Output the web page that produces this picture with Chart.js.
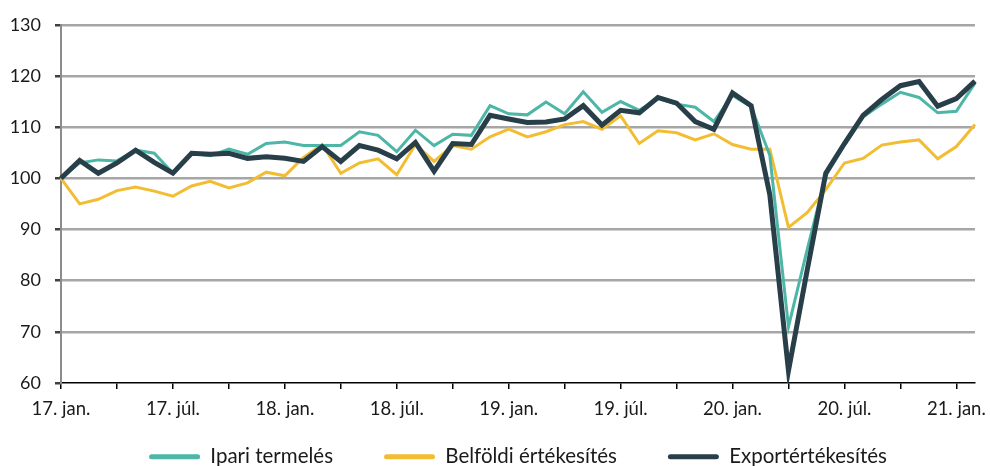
<!DOCTYPE html>
<html><head><meta charset="utf-8">
<script src="https://cdn.jsdelivr.net/npm/chart.js@4.4.1/dist/chart.umd.min.js"></script>
<style>html,body{margin:0;padding:0;background:#fff}#wrap{width:990px;height:466px;position:relative}</style>
</head><body><div id="wrap"><canvas id="c"></canvas></div>
<script>
const categories = [
 "17. jan.","17. febr.","17. márc.","17. ápr.","17. máj.","17. jún.","17. júl.","17. aug.","17. szept.","17. okt.","17. nov.","17. dec.",
 "18. jan.","18. febr.","18. márc.","18. ápr.","18. máj.","18. jún.","18. júl.","18. aug.","18. szept.","18. okt.","18. nov.","18. dec.",
 "19. jan.","19. febr.","19. márc.","19. ápr.","19. máj.","19. jún.","19. júl.","19. aug.","19. szept.","19. okt.","19. nov.","19. dec.",
 "20. jan.","20. febr.","20. márc.","20. ápr.","20. máj.","20. jún.","20. júl.","20. aug.","20. szept.","20. okt.","20. nov.","20. dec.",
 "21. jan.","21. febr."
];
const ipariTermeles = [100,103,103.6,103.4,105.5,104.9,101,104.9,104.4,105.7,104.7,106.8,107.1,106.4,106.4,106.4,109.1,108.4,105.2,109.4,106.4,108.6,108.4,114.2,112.6,112.4,114.9,112.6,116.9,112.9,115,113.3,115.6,114.5,113.9,111.1,116.2,114,104.5,71,86,100.5,106.5,112,114.5,116.8,115.8,112.8,113.1,118.6];
const belfoldiErtekesites = [100,95,95.9,97.6,98.3,97.5,96.5,98.5,99.4,98.1,99.1,101.2,100.5,104.1,106.6,101,103,103.8,100.7,106.6,103.3,106.4,105.7,108.1,109.6,108.1,109.1,110.5,111.1,109.6,112.2,106.8,109.3,108.9,107.5,108.7,106.6,105.7,105.7,90.4,93.3,97.8,103,103.9,106.5,107.1,107.5,103.8,106.2,110.5];
const exportErtekesites = [100,103.5,101,103,105.5,103.1,101,104.9,104.7,104.9,103.9,104.2,103.9,103.3,106.2,103.3,106.4,105.5,103.8,107,101.4,106.8,106.6,112.3,111.6,110.9,111,111.6,114.2,110.4,113.3,112.8,115.8,114.7,111.1,109.6,116.7,114.2,96.8,62.4,82,101,106.8,112.3,115.4,118.1,118.9,114.1,115.6,119];
const seriesNames = ["Ipari termelés","Belföldi értékesítés","Exportértékesítés"];
const yMin = 60, yMax = 130, yStep = 10;

const FONT = "Lato";
new Chart(document.getElementById('c'), {
  type: 'line',
  data: {
    labels: categories,
    datasets: [
      {label: seriesNames[0], data: ipariTermeles, borderColor:'#4DB6A6', backgroundColor:'#4DB6A6', borderWidth:3, order:2},
      {label: seriesNames[1], data: belfoldiErtekesites, borderColor:'#F2BD32', backgroundColor:'#F2BD32', borderWidth:3, order:3},
      {label: seriesNames[2], data: exportErtekesites, borderColor:'#283F4A', backgroundColor:'#283F4A', borderWidth:5, order:1}
    ]
  },
  options: {
    responsive:true, maintainAspectRatio:false, animation:false,
    layout:{padding:{top:21,right:15,left:0,bottom:-11}},
    elements:{point:{radius:0}, line:{tension:0, borderJoinStyle:'miter'}},
    plugins:{
      tooltip:{enabled:false},
      legend:{
        position:'bottom', fullSize:false,
        title:{display:true, text:'', font:{size:10, lineHeight:1}, padding:{top:-17.25, bottom:-17.25}},
        labels:{
          font:{family:FONT,size:20.5}, color:'#1a1a1a',
          boxWidth:51, boxHeight:5, padding:51,
          useBorderRadius:true, borderRadius:2.5,
          sort:(a,b)=>a.datasetIndex-b.datasetIndex,
          generateLabels:(chart)=>{
            const items = Chart.defaults.plugins.legend.labels.generateLabels(chart);
            return items.map(it=>Object.assign(it,{lineWidth:0}));
          }
        }
      }
    },
    scales:{
      x:{
        type:'category', offset:false,
        grid:{display:true, drawOnChartArea:false, drawTicks:true, tickLength:6, lineWidth:1.5,
              color:(ctx)=> (ctx.index%3===0 ? '#000' : 'rgba(0,0,0,0)')},
        border:{display:true, color:'#000', width:1.5},
        ticks:{autoSkip:false, maxRotation:0, minRotation:0, padding:9,
               font:{family:FONT,size:18.5}, color:'#1a1a1a',
               callback:function(v,i){ return i%6===0 ? this.getLabelForValue(v) : ''; }},
        afterFit:(s)=>{ s.height = 37; }
      },
      y:{
        min:yMin, max:yMax,
        grid:{color:(ctx)=> (ctx.tick && ctx.tick.value===yMin ? 'rgba(0,0,0,0)' : '#A6A6A6'), lineWidth:2.5,
              tickColor:'#404040', tickLength:6},
        border:{display:true, color:'#8c8c8c', width:2},
        ticks:{stepSize:yStep, padding:14, font:{family:FONT,size:18}, color:'#1a1a1a'},
        afterFit:(s)=>{ s.width = 61; }
      }
    }
  }
});
</script></body></html>
